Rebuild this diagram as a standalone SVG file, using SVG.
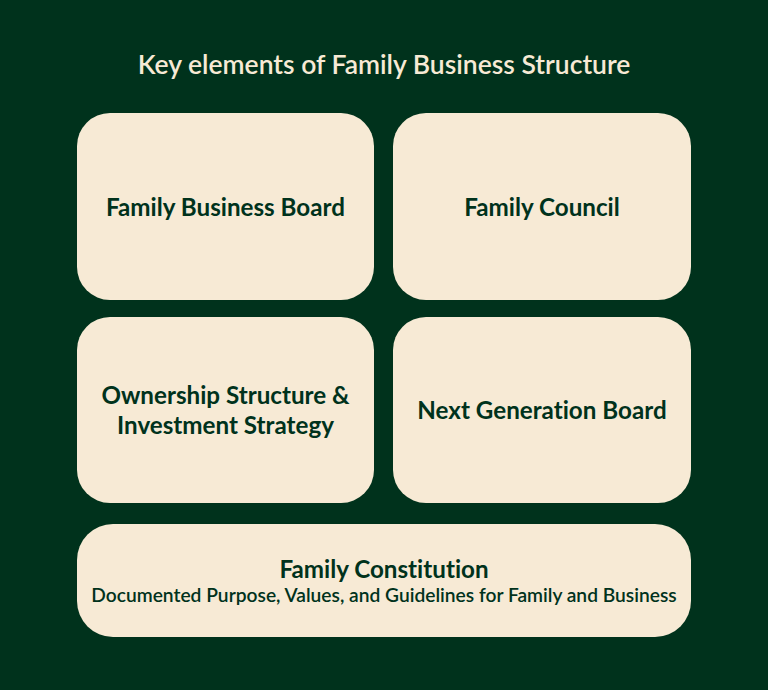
<svg xmlns="http://www.w3.org/2000/svg" width="768" height="690" viewBox="0 0 768 690">
<style>
.box{fill:#f7ead5}
text{font-variant-ligatures:none}
.t{font-family:Lato,"Noto Sans",sans-serif;fill:#00321c;text-anchor:middle}
.h{font-size:24.2px;font-weight:700}
.s{font-size:19.2px;font-weight:600}
.title{font-family:Lato,"Noto Sans",sans-serif;fill:#f7ead5;text-anchor:middle;font-size:26.5px;font-weight:600}
</style>
<rect width="768" height="690" fill="#00321c"/>
<text class="title" x="384" y="74">Key elements of Family Business Structure</text>
<g id="connectors"></g>
<g id="node-board">
<rect class="box" x="77" y="113" width="297" height="187" rx="33"/>
<text class="t h" x="225.5" y="216">Family Business Board</text>
</g>
<g id="node-council">
<rect class="box" x="393" y="113" width="298" height="187" rx="33"/>
<text class="t h" x="542" y="216">Family Council</text>
</g>
<g id="node-ownership">
<rect class="box" x="77" y="317" width="297" height="186" rx="33"/>
<text class="t h" x="225.5" y="404">Ownership Structure &amp;</text>
<text class="t h" x="225.5" y="434">Investment Strategy</text>
</g>
<g id="node-nextgen">
<rect class="box" x="393" y="317" width="298" height="186" rx="33"/>
<text class="t h" x="542" y="419">Next Generation Board</text>
</g>
<g id="node-constitution">
<rect class="box" x="77" y="524" width="614" height="113" rx="36"/>
<text class="t h" x="384" y="578">Family Constitution</text>
<text class="t s" x="384" y="602">Documented Purpose, Values, and Guidelines for Family and Business</text>
</g>
</svg>
